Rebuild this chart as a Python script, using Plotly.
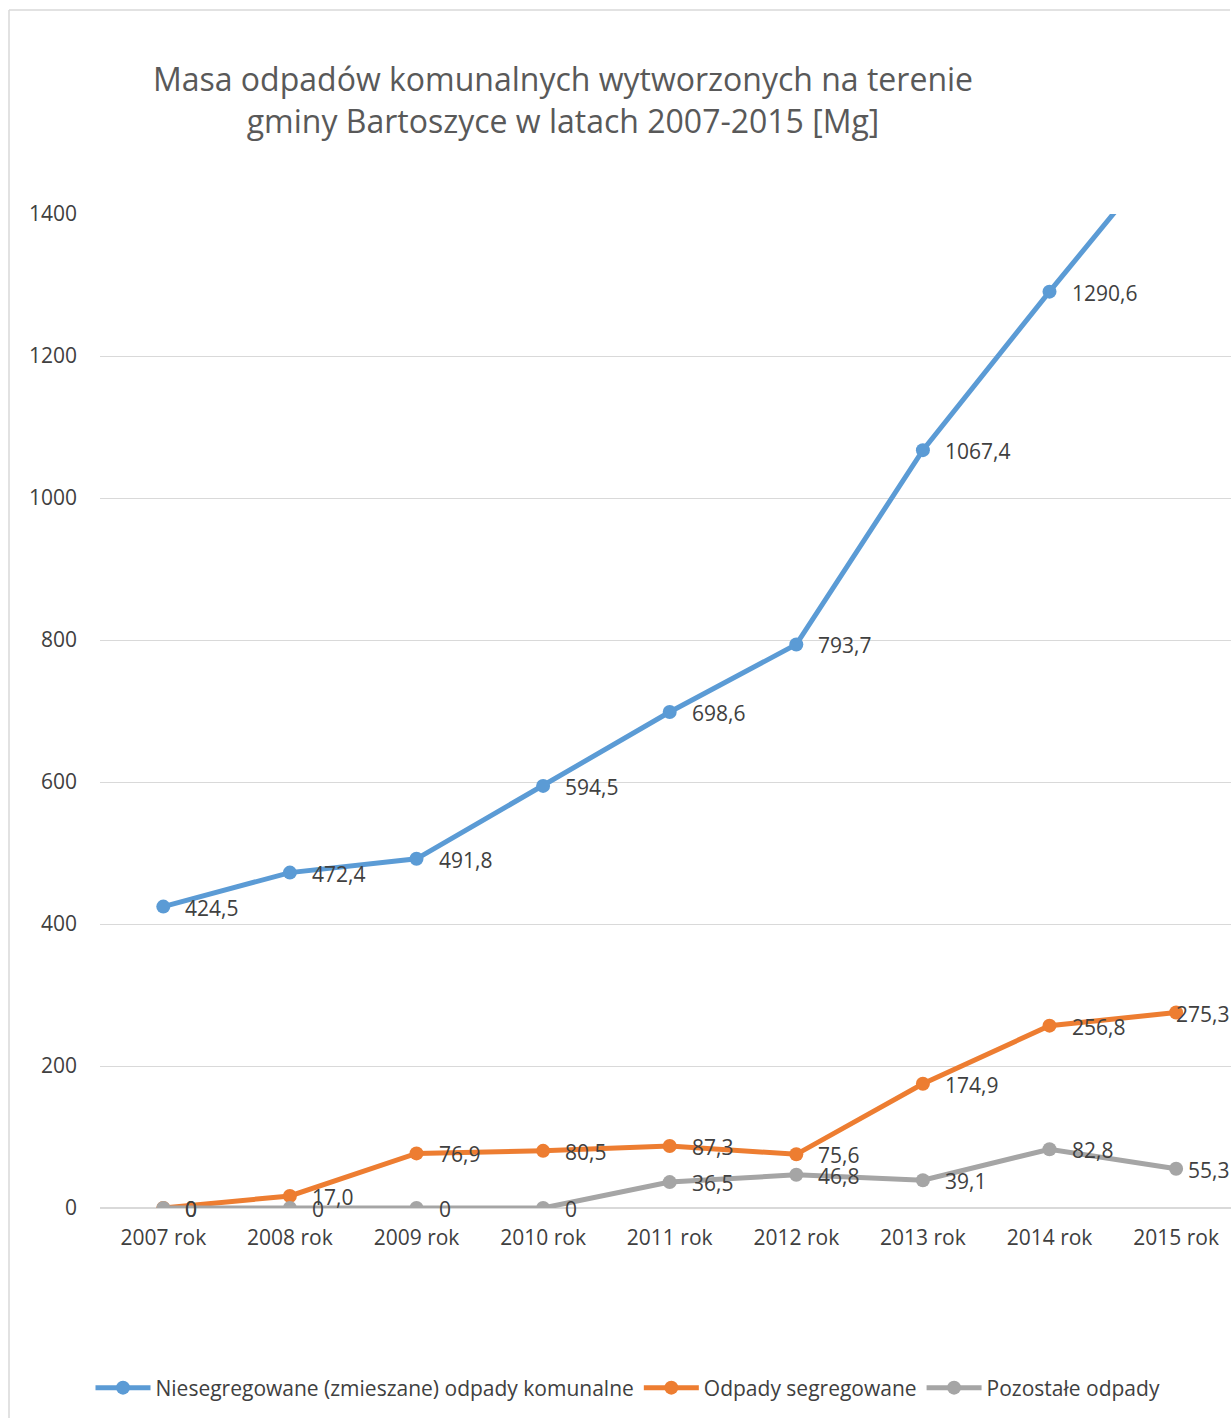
import plotly.graph_objects as go

categories = ["2007 rok", "2008 rok", "2009 rok", "2010 rok", "2011 rok",
              "2012 rok", "2013 rok", "2014 rok", "2015 rok"]
niesegregowane = [424.5, 472.4, 491.8, 594.5, 698.6, 793.7, 1067.4, 1290.6, 1508.0]
segregowane = [0, 17.0, 76.9, 80.5, 87.3, 75.6, 174.9, 256.8, 275.3]
pozostale = [0, 0, 0, 0, 36.5, 46.8, 39.1, 82.8, 55.3]
zero_plain = [True, False, False, False, False, False, False, False, False]
zero_plain_p = [True, True, True, True, False, False, False, False, False]

series = [
    ("Niesegregowane (zmieszane) odpady komunalne", niesegregowane, "#5B9BD5", [False] * 9),
    ("Odpady segregowane", segregowane, "#ED7D31", zero_plain),
    ("Pozostałe odpady", pozostale, "#A5A5A5", zero_plain_p),
]

W, H = 1231, 1418
PL, PT, PB = 100, 214, 1208
ML, MT, MB, MR = PL, PT, H - PB, 0
YMAX = 1400
FONT = "Open Sans"
TXT = "#404040"
FS = 21
CAT_PX = 126.6
last = len(categories) - 1

fig = go.Figure()
annotations = []
for name, vals, color, plain in series:
    fig.add_trace(go.Scatter(
        x=list(range(len(categories))), y=vals, name=name, mode="lines+markers",
        line=dict(color=color, width=5), marker=dict(color=color, size=14),
        cliponaxis=True, hoverinfo="skip",
    ))
    for i, v in enumerate(vals):
        if v > YMAX:
            continue
        label = "0" if (v == 0 and plain[i]) else f"{v:.1f}".replace(".", ",")
        if i == last:
            # keep the label inside the chart's right edge
            annotations.append(dict(
                x=1.0, y=v, xref="paper", yref="y", text=label, showarrow=False,
                xanchor="right", yanchor="middle", yshift=-1,
                font=dict(family=FONT, size=FS, color=TXT),
            ))
        else:
            annotations.append(dict(
                x=i, y=v, xref="x", yref="y", text=label, showarrow=False,
                xanchor="left", yanchor="middle", xshift=20, yshift=-1,
                font=dict(family=FONT, size=FS, color=TXT),
            ))

plot_w = W - ML - MR
plot_h = H - MT - MB
bx = (9 - ML) / plot_w
by = (H - MB - 10) / plot_h
fig.add_shape(type="line", xref="paper", yref="paper", x0=bx, x1=(1230 - ML) / plot_w,
              y0=by, y1=by, line=dict(color="#D9D9D9", width=1.5))
fig.add_shape(type="line", xref="paper", yref="paper", x0=bx, x1=bx, y0=by, y1=-MB / plot_h,
              line=dict(color="#D9D9D9", width=1.5))

fig.update_layout(
    width=W, height=H,
    margin=dict(l=ML, r=MR, t=MT, b=MB, pad=0),
    paper_bgcolor="white", plot_bgcolor="white",
    font=dict(family=FONT, size=FS, color=TXT),
    title=dict(
        text="Masa odpadów komunalnych wytworzonych na terenie<br>gminy Bartoszyce w latach 2007-2015 [Mg]",
        xref="container", yref="container", x=563 / W, y=1 - 91 / H,
        xanchor="center", yanchor="middle",
        font=dict(family=FONT, size=32, color="#595959"),
    ),
    showlegend=True,
    legend=dict(
        orientation="h", xref="container", yref="container",
        x=628 / W, y=1 - 1388 / H, xanchor="center", yanchor="middle",
        font=dict(family=FONT, size=FS, color=TXT), itemwidth=55,
        traceorder="normal",
    ),
    annotations=annotations,
)
fig.update_xaxes(
    range=[-0.5, -0.5 + plot_w / CAT_PX], tickmode="array",
    tickvals=list(range(len(categories))), ticktext=categories,
    showgrid=False, zeroline=False, showline=False, ticks="",
    ticklabelstandoff=15, tickfont=dict(family=FONT, size=FS, color=TXT),
)
fig.update_yaxes(
    range=[0, YMAX], dtick=200, showgrid=True, gridcolor="#D9D9D9", gridwidth=1,
    zeroline=True, zerolinecolor="#D9D9D9", zerolinewidth=1.5, showline=False,
    ticks="", ticklabelstandoff=22, tickfont=dict(family=FONT, size=FS, color=TXT),
)

fig.write_html(
    "out.html",
    config={"displayModeBar": False},
    post_script="document.body.style.margin='0';document.body.style.overflow='hidden';",
)
